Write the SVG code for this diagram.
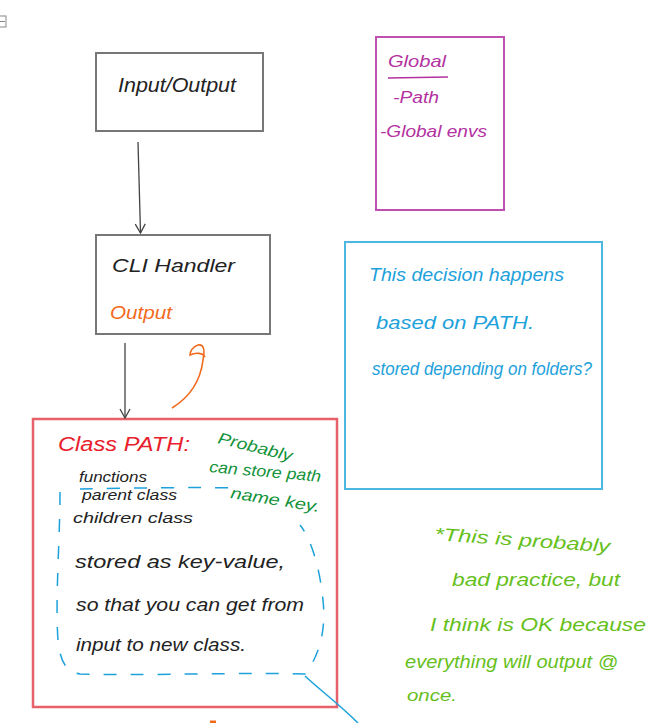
<svg xmlns="http://www.w3.org/2000/svg" width="661" height="723" viewBox="0 0 661 723">
<defs>
<marker id="vh" viewBox="0 0 12 12" refX="11" refY="6" markerWidth="12" markerHeight="12" markerUnits="userSpaceOnUse" orient="auto">
<path d="M2,1 L11,6 L2,11" fill="none" stroke="#444" stroke-width="1.3"/>
</marker>
<style>
.box{fill:#fff;stroke:#777;stroke-width:2}
.t{font-family:"Liberation Sans","DejaVu Sans",sans-serif;font-style:italic}
.blk{fill:#222}
.or{fill:#f26b1d}
.mg{fill:#b3319f}
.bl{fill:#1da1db}
.rd{fill:#e8202c}
.gn{fill:#12923a}
.lg{fill:#66c01c}
.conn{fill:none;stroke:#444;stroke-width:1.3}
</style>
</defs>
<rect width="661" height="723" fill="#fff"/>
<g id="icon">
<rect x="-1" y="16" width="7" height="11" fill="none" stroke="#888" stroke-width="1"/>
<line x1="0" y1="21.5" x2="5" y2="21.5" stroke="#888" stroke-width="1"/>
</g>
<g id="io">
<rect class="box" x="96" y="53" width="167" height="78"/>
<text class="t blk" x="118" y="92" font-size="20" textLength="118" lengthAdjust="spacingAndGlyphs">Input/Output</text>
</g>
<g id="cli">
<rect class="box" x="96" y="235" width="174" height="99"/>
<text class="t blk" x="112" y="272" font-size="19" textLength="123" lengthAdjust="spacingAndGlyphs">CLI   Handler</text>
<text class="t or" x="110" y="319" font-size="19" textLength="62" lengthAdjust="spacingAndGlyphs">Output</text>
</g>
<g id="global">
<rect x="376" y="37" width="128" height="173" fill="#fff" stroke="#c050b0" stroke-width="2"/>
<text class="t mg" x="388" y="67" font-size="17" textLength="58" lengthAdjust="spacingAndGlyphs">Global</text>
<line x1="388" y1="78" x2="448" y2="77" stroke="#b3319f" stroke-width="1.5"/>
<text class="t mg" x="393" y="103" font-size="16" textLength="46" lengthAdjust="spacingAndGlyphs">-Path</text>
<text class="t mg" x="380" y="137" font-size="17" textLength="107" lengthAdjust="spacingAndGlyphs">-Global envs</text>
</g>
<g id="decision">
<rect x="345" y="242" width="257" height="247" fill="#fff" stroke="#4cb8e0" stroke-width="2"/>
<text class="t bl" x="369" y="281" font-size="19" textLength="195" lengthAdjust="spacingAndGlyphs">This decision happens</text>
<text class="t bl" x="376" y="329" font-size="19" textLength="158" lengthAdjust="spacingAndGlyphs">based on PATH.</text>
<text class="t bl" x="372" y="375" font-size="18" textLength="220" lengthAdjust="spacingAndGlyphs">stored depending on folders?</text>
</g>
<g id="classpath">
<rect x="33" y="419" width="304" height="288" fill="#fff" stroke="#e8606a" stroke-width="2.5"/>
<text class="t rd" x="58" y="451" font-size="20" textLength="132" lengthAdjust="spacingAndGlyphs">Class PATH:</text>
<text class="t gn" x="217" y="443" font-size="16" textLength="76" lengthAdjust="spacingAndGlyphs" transform="rotate(14 217 443)">Probably</text>
<text class="t gn" x="209" y="472" font-size="16" textLength="112" lengthAdjust="spacingAndGlyphs" transform="rotate(5 209 472)">can store path</text>
<text class="t gn" x="230" y="498" font-size="16" textLength="90" lengthAdjust="spacingAndGlyphs" transform="rotate(9 230 498)">name key.</text>
<text class="t blk" x="79" y="482" font-size="15" textLength="68" lengthAdjust="spacingAndGlyphs">functions</text>
<text class="t blk" x="82" y="500" font-size="15" textLength="95" lengthAdjust="spacingAndGlyphs">parent class</text>
<text class="t blk" x="73" y="523" font-size="15" textLength="120" lengthAdjust="spacingAndGlyphs">children class</text>
<text class="t blk" x="75" y="568" font-size="18" textLength="210" lengthAdjust="spacingAndGlyphs">stored as key-value,</text>
<text class="t blk" x="76" y="611" font-size="18" textLength="228" lengthAdjust="spacingAndGlyphs">so that you can get from</text>
<text class="t blk" x="76" y="651" font-size="18" textLength="170" lengthAdjust="spacingAndGlyphs">input to new class.</text>
<path d="M60,492 C60,540 55,600 58,640 C60,660 65,672 80,674 C140,676 250,672 305,674 C320,655 326,630 323,600 C320,570 312,540 300,525 M80,489 C130,488 190,487 235,488" fill="none" stroke="#1da1db" stroke-width="1.5" stroke-dasharray="13,14"/>
</g>
<g id="note">
<text class="t lg" x="434" y="540" font-size="18" textLength="176" lengthAdjust="spacingAndGlyphs" transform="rotate(4 434 540)">*This is probably</text>
<text class="t lg" x="452" y="586" font-size="18" textLength="168" lengthAdjust="spacingAndGlyphs">bad practice, but</text>
<text class="t lg" x="430" y="631" font-size="18" textLength="216" lengthAdjust="spacingAndGlyphs">I think is OK because</text>
<text class="t lg" x="405" y="668" font-size="18" textLength="213" lengthAdjust="spacingAndGlyphs">everything will output @</text>
<text class="t lg" x="407" y="701" font-size="17" textLength="50" lengthAdjust="spacingAndGlyphs">once.</text>
</g>
<g id="connectors">
<path class="conn" d="M138,142 L140.5,233" marker-end="url(#vh)"/>
<path class="conn" d="M125,343 L125,418" marker-end="url(#vh)"/>
<path d="M172,408 C185,400 200,385 203,360 C205,350 204,344 198,345 C192,347 190,352 190,355 C196,352 203,353 205,357" fill="none" stroke="#f26b1d" stroke-width="1.6"/>
<path d="M305,676 C320,690 340,705 358,723" fill="none" stroke="#1da1db" stroke-width="1.5"/>
<path d="M210,722 L216,722" stroke="#f26b1d" stroke-width="3"/>
</g>
</svg>
